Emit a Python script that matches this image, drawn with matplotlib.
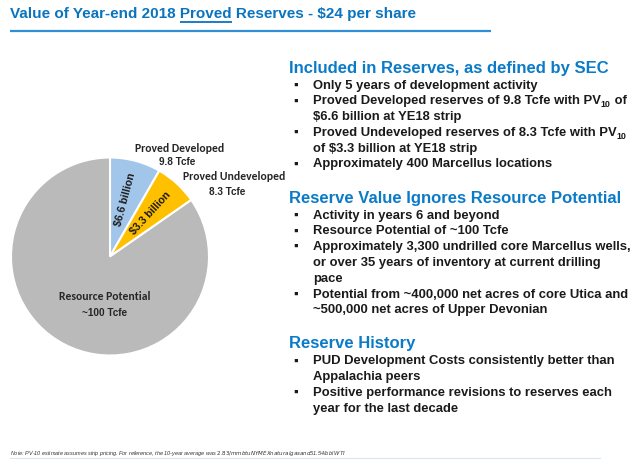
import matplotlib
matplotlib.use('Agg')
import numpy as np
import matplotlib.pyplot as plt
from matplotlib import font_manager

# ---------------- data ----------------
title_parts = ["Value of Year-end 2018 ", "Proved", " Reserves - $24 per share"]

slice_names = ["Proved Developed", "Proved Undeveloped", "Resource Potential"]
slice_volumes = ["9.8 Tcfe", "8.3 Tcfe", "~100 Tcfe"]
slice_values = [9.8, 8.3, 100.0]
slice_pv10 = ["$6.6 billion", "$3.3 billion", ""]
slice_colors = ["#A2C6EA", "#FFC000", "#BABABA"]

section_titles = [
    "Included in Reserves, as defined by SEC",
    "Reserve Value Ignores Resource Potential",
    "Reserve History",
]
section_bullets = [
    [
        ["Only 5 years of development activity"],
        ["Proved Developed reserves of 9.8 Tcfe with PV_10 of", "$6.6 billion at YE18 strip"],
        ["Proved Undeveloped reserves of 8.3 Tcfe with PV_10", "of $3.3 billion at YE18 strip"],
        ["Approximately 400 Marcellus locations"],
    ],
    [
        ["Activity in years 6 and beyond"],
        ["Resource Potential of ~100 Tcfe"],
        ["Approximately 3,300 undrilled core Marcellus wells,",
         "or over 35 years of inventory at current drilling", "pace"],
        ["Potential from ~400,000 net acres of core Utica and",
         "~500,000 net acres of Upper Devonian"],
    ],
    [
        ["PUD Development Costs consistently better than", "Appalachia peers"],
        ["Positive performance revisions to reserves each", "year for the last decade"],
    ],
]
footnote = ("Note: PV-10 estimate assumes strip pricing. For reference, the 10-year average was "
            "$2.83/mmbtu NYMEX natural gas and $51.54/bbl WTI")

# ---------------- fonts ----------------
names = {f.name for f in font_manager.fontManager.ttflist}
NARROW = "Liberation Sans Narrow" in names
TITLE_FONT = ["Liberation Sans Narrow" if NARROW else "Liberation Sans", "DejaVu Sans"]
TITLE_SIZE = 12.6 if NARROW else 11.0
BODY_FONT = ["Liberation Sans", "DejaVu Sans"]
LABEL_FONT = ["Carlito" if "Carlito" in names else "Lato", "DejaVu Sans"]

TITLE_BLUE = "#0A74BF"
HEAD_BLUE = "#0B7BC8"
DARK = "#1A1A1A"

fig = plt.figure(figsize=(6.4, 4.6), dpi=100)
fig.patch.set_facecolor("white")

# ---------------- pie ----------------
cx, cy, r = 110, 257.5, 99
pax = fig.add_axes([(cx - r) / 640, (460 - cy - r) / 460, 2 * r / 640, 2 * r / 460])
wedges, _ = pax.pie(slice_values, colors=slice_colors, startangle=90, counterclock=False,
                    radius=1.0, wedgeprops=dict(edgecolor="white", linewidth=1.5))
pax.set_xlim(-1, 1)
pax.set_ylim(-1, 1)
pax.axis("off")
for w, lab in zip(wedges, slice_pv10):
    if not lab:
        continue
    mid = np.deg2rad((w.theta1 + w.theta2) / 2)
    rr = 0.61
    pax.text(rr * np.cos(mid), rr * np.sin(mid), lab, rotation=np.rad2deg(mid),
             rotation_mode="anchor", ha="center", va="center",
             fontsize=7.6, fontweight="bold", family=BODY_FONT, color=DARK)

# ---------------- overlay ----------------
ax = fig.add_axes([0, 0, 1, 1], zorder=5)
ax.set_xlim(0, 640)
ax.set_ylim(460, 0)
ax.axis("off")
ax.patch.set_alpha(0)
renderer = fig.canvas.get_renderer()


def text_width(s, **kw):
    t = ax.text(0, 0, s, **kw)
    w = t.get_window_extent(renderer).width
    t.remove()
    return w


# title
tkw = dict(fontsize=TITLE_SIZE, fontweight="bold", family=TITLE_FONT, color=TITLE_BLUE, va="center")
full_title = "".join(title_parts)
ax.text(10, 14, full_title, **tkw)
w_upto = text_width(title_parts[0] + title_parts[1], **tkw)
w_word = text_width(title_parts[1], **tkw)
ax.plot([10 + w_upto - w_word, 10 + w_upto], [23, 23], color=TITLE_BLUE, lw=1.3,
        solid_capstyle="butt")
ax.plot([10, 491], [32, 32], color="#2E8FD6", lw=1.6, solid_capstyle="butt")

# pie outer labels
lkw = dict(fontweight="bold", family=LABEL_FONT, color="#262626", va="center")
vkw = dict(fontweight="bold", family=BODY_FONT, color="#262626", va="center", fontsize=7.2)
ax.text(180, 149, slice_names[0], ha="center", fontsize=8.4, **lkw)
ax.text(177, 162, slice_volumes[0], ha="center", **vkw)
ax.text(183, 177, slice_names[1], ha="left", fontsize=8.4, **lkw)
ax.text(227, 192, slice_volumes[1], ha="center", **vkw)
ax.text(105, 297, slice_names[2], ha="center", fontsize=8.4, **lkw)
ax.text(105, 313, slice_volumes[2], ha="center", **vkw)

# right-hand text
hkw = dict(fontsize=12.0, fontweight="bold", family=BODY_FONT, color=HEAD_BLUE, va="center")
bkw = dict(fontsize=9.4, fontweight="bold", family=BODY_FONT, color=DARK, va="center")
skw = dict(fontsize=6.4, fontweight="bold", family=BODY_FONT, color=DARK, va="center")

y = 68
step = 15.8
for si, (head, bullets) in enumerate(zip(section_titles, section_bullets)):
    ax.text(289, y, head, **hkw)
    y += 17.5
    for lines in bullets:
        ax.text(296, y, "\u25AA", fontsize=9.5, family=BODY_FONT, color=DARK, va="center", ha="center")
        for line in lines:
            if "_10" in line:
                before, after = line.split("_10")
                ax.text(313, y, before, **bkw)
                wb = text_width(before, **bkw)
                ax.text(313 + wb, y + 3.2, "10", **skw)
                ws = text_width("10", **skw)
                if after:
                    ax.text(313 + wb + ws, y, after, **bkw)
            else:
                ax.text(313, y, line, **bkw)
            y += step
    y += 33.5 - step

# footnote
ax.text(10, 454, footnote, fontsize=3.95, style="italic", family=BODY_FONT, color="#333333",
        va="center")
ax.plot([10, 600], [458.5, 458.5], color="#D6E6F2", lw=0.8)

fig.savefig("out.png", dpi=100, facecolor="white")
